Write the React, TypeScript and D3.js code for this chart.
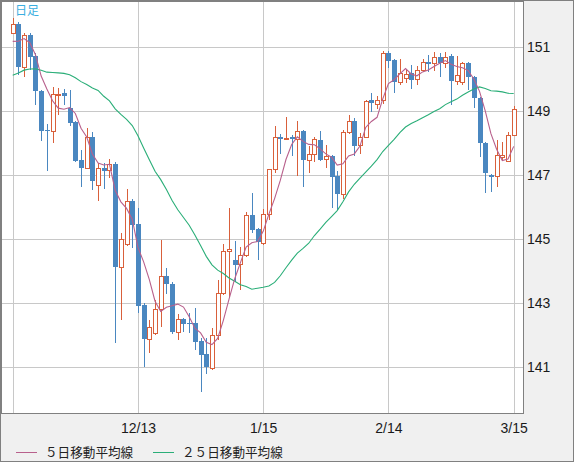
import { useEffect, useRef } from "react";
import * as d3 from "d3";

// daily candles, 11/13 .. 3/15 (one per trading day)
const opens = [
	151.45, 151.73, 150.39, 151.38, 150.73, 149.64, 148.4, 148.39, 149.5, 149.56,
	149.09, 148.68, 147.48, 147.22, 148.21, 146.7, 147.22, 147.17, 147.34, 144.14,
	144.85, 146.2, 145.47, 142.95, 141.88, 142.06, 142.81, 143.85, 143.6, 142.11,
	142.5, 142.39, 142.37, 141.82, 141.41, 140.97, 142.0, 143.31, 144.63, 144.35,
	144.23, 144.51, 145.76, 145.31, 144.88, 145.78, 147.19, 148.19, 148.15, 148.21,
	148.13, 148.38, 147.48, 147.66, 148.1, 147.5, 147.6, 146.99, 146.42, 148.36,
	148.7, 147.95, 148.19, 149.35, 149.23, 149.35, 150.81, 150.6, 149.92, 150.03,
	150.19, 150.0, 150.29, 150.53, 150.5, 150.71, 150.5, 150.73, 149.96, 149.93,
	150.52, 150.08, 149.41, 148.02, 147.0, 146.98, 147.58, 147.46, 148.26,
];
const highs = [
	151.92, 151.79, 151.44, 151.44, 150.81, 149.68, 148.6, 149.75, 149.72, 149.69,
	149.67, 148.7, 147.79, 148.49, 148.34, 147.38, 147.39, 147.5, 147.4, 145.19,
	146.56, 146.25, 145.97, 143.0, 142.48, 143.1, 144.98, 144.09, 143.65, 142.66,
	142.55, 142.69, 142.84, 141.9, 141.9, 142.22, 143.73, 144.84, 145.97, 144.96,
	144.77, 145.86, 146.44, 145.35, 145.94, 147.2, 148.54, 148.29, 148.81, 148.27,
	148.71, 148.4, 147.92, 148.21, 148.39, 147.95, 147.62, 147.14, 148.4, 148.88,
	148.78, 148.31, 149.36, 149.56, 149.48, 150.88, 150.88, 150.62, 150.63, 150.29,
	150.45, 150.42, 150.63, 150.76, 150.84, 150.82, 150.84, 150.78, 150.73, 150.55,
	150.55, 150.1, 149.45, 148.05, 147.05, 148.1, 148.05, 148.36, 149.17,
];
const lows = [
	151.4, 150.13, 150.06, 150.29, 149.2, 148.08, 147.14, 148.02, 148.88, 149.2,
	148.54, 147.4, 146.64, 147.2, 146.54, 146.2, 146.56, 146.91, 141.75, 142.48,
	144.8, 144.72, 142.69, 141.0, 141.44, 142.0, 142.25, 143.29, 142.05, 141.85,
	142.11, 142.06, 141.54, 140.24, 140.79, 140.9, 141.85, 143.25, 143.16, 143.67,
	143.42, 144.45, 145.2, 144.35, 144.82, 145.6, 147.06, 147.67, 148.1, 147.6,
	146.99, 146.64, 147.08, 147.42, 147.45, 147.24, 145.97, 145.92, 146.25, 148.3,
	147.6, 147.67, 148.17, 148.99, 149.06, 149.23, 150.34, 149.56, 149.82, 149.88,
	149.69, 149.82, 150.24, 150.24, 150.27, 150.08, 150.34, 149.2, 149.82, 149.82,
	149.67, 149.09, 147.58, 146.46, 146.49, 146.63, 147.48, 147.45, 148.24,
];
const closes = [
	151.73, 150.39, 151.38, 150.71, 149.64, 148.39, 148.38, 149.53, 149.55, 149.48,
	148.64, 147.46, 147.22, 148.19, 146.83, 147.22, 147.14, 147.34, 144.14, 145.01,
	146.2, 145.45, 142.93, 141.88, 142.25, 142.81, 143.85, 143.6, 142.11, 142.5,
	142.35, 142.35, 141.8, 141.38, 141.02, 142.0, 143.31, 144.63, 144.7, 144.2,
	144.51, 145.76, 145.29, 144.91, 145.78, 147.19, 148.19, 148.13, 148.18, 148.13,
	148.38, 147.48, 147.66, 148.13, 147.48, 147.6, 146.96, 146.42, 148.34, 148.7,
	147.92, 148.19, 149.33, 149.27, 149.35, 150.81, 150.58, 149.92, 150.19, 150.17,
	149.98, 150.29, 150.53, 150.48, 150.71, 150.5, 150.71, 149.96, 150.13, 150.5,
	150.06, 149.41, 148.02, 147.08, 146.94, 147.63, 147.63, 148.26, 149.06,
];
// closes of the 24 days before the first candle (feed the moving averages)
const priorCloses = [
	148.74, 149.12, 149.79, 149.57, 149.52, 149.82, 149.8, 149.84, 149.86, 149.7,
	149.89, 150.19, 150.38, 149.63, 149.12, 151.68, 150.93, 150.37, 149.39, 149.98,
	150.36, 150.96, 151.36, 151.51,
];

const gridIndex = [0, 22, 44, 66, 88];
const tickIndex = [22, 44, 66, 88];
const tickLabels = ["12/13", "1/15", "2/14", "3/15"];
const priceTicks = [141, 143, 145, 147, 149, 151];
const legendLabels = ["５日移動平均線", "２５日移動平均線"];

const UP = "#d9603b";
const DOWN = "#4a87c0";
const MA5 = "#b8608c";
const MA25 = "#2aae78";

function movingAverage(period: number) {
	const all = priorCloses.concat(closes);
	const off = priorCloses.length;
	return closes.map(
		(_, i) => d3.mean(all.slice(off + i - period + 1, off + i + 1)) as number
	);
}

export default function App() {
	const svgRef = useRef<SVGSVGElement>(null);
	const width = 574;
	const height = 462;

	useEffect(() => {
		if (!svgRef.current) return;
		const svg = d3.select(svgRef.current);
		svg.selectAll("*").remove();

		const plot = { left: 1, top: 1, right: 523, bottom: 413 };

		const xScale = d3
			.scaleLinear()
			.domain([0, closes.length - 1])
			.range([12.7, 513.7]);
		const yScale = d3.scaleLinear().domain([141, 151]).range([367.3, 47.3]);
		const px = (i: number) => Math.round(xScale(i));

		svg
			.append("rect")
			.attr("width", width)
			.attr("height", height)
			.attr("fill", "#f0f0f0");

		svg
			.append("rect")
			.attr("x", plot.left + 0.5)
			.attr("y", plot.top + 0.5)
			.attr("width", plot.right - plot.left)
			.attr("height", plot.bottom - plot.top)
			.attr("fill", "#fff");

		const clipId = "plot-clip";
		svg
			.append("defs")
			.append("clipPath")
			.attr("id", clipId)
			.append("rect")
			.attr("x", plot.left + 1)
			.attr("y", plot.top + 1)
			.attr("width", plot.right - plot.left - 1)
			.attr("height", plot.bottom - plot.top - 1);

		const g = svg.append("g").attr("clip-path", `url(#${clipId})`);

		// grid
		g.selectAll(".hgrid")
			.data(priceTicks)
			.join("line")
			.attr("x1", plot.left)
			.attr("x2", plot.right)
			.attr("y1", (d) => Math.round(yScale(d)) + 0.5)
			.attr("y2", (d) => Math.round(yScale(d)) + 0.5)
			.attr("stroke", "#c8c8c8");

		g.selectAll(".vgrid")
			.data(gridIndex)
			.join("line")
			.attr("x1", (d) => px(d) + 0.5)
			.attr("x2", (d) => px(d) + 0.5)
			.attr("y1", plot.top)
			.attr("y2", plot.bottom)
			.attr("stroke", "#c8c8c8");

		// candles
		const idx = d3.range(closes.length);
		const candle = g
			.selectAll(".candle")
			.data(idx)
			.join("g")
			.attr("shape-rendering", "crispEdges");

		candle
			.append("line")
			.attr("x1", (i) => px(i) + 0.5)
			.attr("x2", (i) => px(i) + 0.5)
			.attr("y1", (i) => Math.round(yScale(highs[i])))
			.attr("y2", (i) => Math.round(yScale(lows[i])))
			.attr("stroke", (i) => (closes[i] >= opens[i] ? UP : DOWN));

		candle.each(function (i) {
			const sel = d3.select(this);
			const top = Math.round(yScale(Math.max(opens[i], closes[i])));
			const bot = Math.round(yScale(Math.min(opens[i], closes[i])));
			if (closes[i] >= opens[i]) {
				sel
					.append("rect")
					.attr("x", px(i) - 1.5)
					.attr("y", top + 0.5)
					.attr("width", 4)
					.attr("height", Math.max(1, bot - top))
					.attr("fill", "#fff")
					.attr("stroke", UP);
			} else {
				sel
					.append("rect")
					.attr("x", px(i) - 2)
					.attr("y", top)
					.attr("width", 5)
					.attr("height", Math.max(1, bot - top))
					.attr("fill", DOWN);
			}
		});

		// moving averages
		const line = d3
			.line<number>()
			.x((_, i) => xScale(i))
			.y((d) => yScale(d));

		g.append("path")
			.datum(movingAverage(25))
			.attr("fill", "none")
			.attr("stroke", MA25)
			.attr("stroke-width", 1.1)
			.attr("d", line);

		g.append("path")
			.datum(movingAverage(5))
			.attr("fill", "none")
			.attr("stroke", MA5)
			.attr("stroke-width", 1.1)
			.attr("d", line);

		// frames
		svg
			.append("rect")
			.attr("x", plot.left + 0.5)
			.attr("y", plot.top + 0.5)
			.attr("width", plot.right - plot.left)
			.attr("height", plot.bottom - plot.top)
			.attr("fill", "none")
			.attr("stroke", "#808080");
		svg
			.append("rect")
			.attr("x", 0.5)
			.attr("y", 0.5)
			.attr("width", width - 1)
			.attr("height", height - 1)
			.attr("fill", "none")
			.attr("stroke", "#808080");

		// axes
		svg
			.append("g")
			.attr("transform", `translate(${plot.right},0)`)
			.call(
				d3
					.axisRight(yScale)
					.tickValues(priceTicks)
					.tickSize(0)
					.tickPadding(4)
					.tickFormat((d) => String(d))
			)
			.call((a) => a.select(".domain").remove())
			.call((a) =>
				a
					.selectAll(".tick text")
					.attr("fill", "#1a1a1a")
					.attr("font-size", "14px")
					.attr("font-family", "'Liberation Sans', sans-serif")
			);

		svg
			.append("g")
			.attr("transform", `translate(0,${plot.bottom})`)
			.call(
				d3
					.axisBottom(xScale)
					.tickValues(tickIndex)
					.tickSize(0)
					.tickPadding(10)
					.tickFormat((_, i) => tickLabels[i])
			)
			.call((a) => a.select(".domain").remove())
			.call((a) =>
				a
					.selectAll(".tick text")
					.attr("fill", "#1a1a1a")
					.attr("font-size", "14px")
					.attr("font-family", "'Liberation Sans', sans-serif")
			);

		// title
		svg
			.append("text")
			.attr("x", 15)
			.attr("y", 15)
			.attr("fill", "#3aaee0")
			.attr("font-size", "12px")
			.attr("font-family", "'Noto Sans CJK JP', sans-serif")
			.text("日足");

		// legend
		const legend = svg
			.selectAll(".legend")
			.data(legendLabels)
			.join("g")
			.attr("transform", (_, i) => `translate(${i === 0 ? 16 : 153},452.5)`);

		legend
			.append("line")
			.attr("x1", 0)
			.attr("x2", 21)
			.attr("stroke", (_, i) => (i === 0 ? MA5 : MA25));

		legend
			.append("text")
			.attr("x", 29)
			.attr("dy", "0.35em")
			.attr("fill", "#222")
			.attr("font-size", "12.6px")
			.attr("font-family", "'Noto Sans CJK JP', sans-serif")
			.text((d) => d);
	}, []);

	return (
		<>
			<style>{"body{margin:0}"}</style>
			<svg ref={svgRef} width={width} height={height} style={{ display: "block" }} />
		</>
	);
}
